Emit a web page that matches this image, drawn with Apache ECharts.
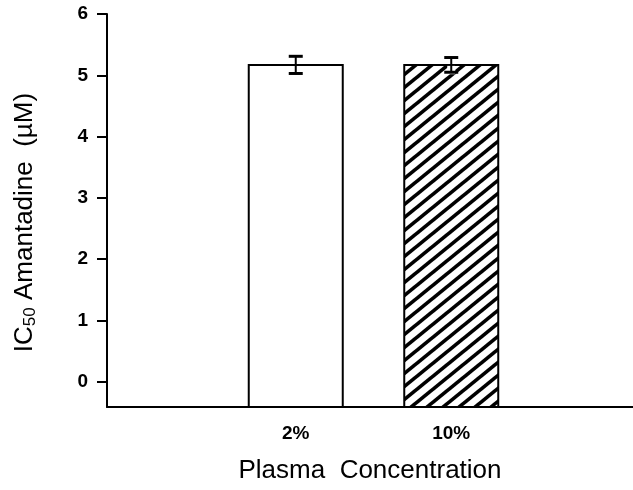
<!DOCTYPE html>
<html>
<head>
<meta charset="utf-8">
<script src="https://cdn.jsdelivr.net/npm/echarts@6/dist/echarts.min.js"></script>
<style>
  html, body { margin: 0; padding: 0; background: #fff; }
  #chart { width: 633px; height: 490px; }
</style>
</head>
<body>
<div id="chart"></div>
<script>
// IC50 of amantadine measured at two plasma concentrations
const categories = ['2%', '10%'];
const meanIC50 = [5.17, 5.17];
const errIC50 = [0.14, 0.12];
const yTickValues = [0, 1, 2, 3, 4, 5, 6];

const FONT = '"Liberation Sans", Arial, sans-serif';

// Diagonal hatch tile used for the second bar
function makeHatch() {
  const W = 16, H = 13;
  const c = document.createElement('canvas');
  c.width = W; c.height = H;
  const g = c.getContext('2d');
  g.fillStyle = '#fff';
  g.fillRect(0, 0, W, H);
  g.strokeStyle = '#000';
  g.lineWidth = 3.6;
  for (const dx of [-W, 0, W]) {
    g.beginPath();
    g.moveTo(dx - W, 2 * H);
    g.lineTo(dx + 2 * W, -H);
    g.stroke();
  }
  return c;
}
const hatch = { image: makeHatch(), repeat: 'repeat' };
const fills = ['#fff', hatch];

const BAR_W = 94;
const CAP_W = 14;

function renderBar(params, api) {
  const i = api.value(0);
  const v = api.value(1);
  const e = api.value(2);
  const cs = params.coordSys;
  const top = api.coord([i, v]);
  const hi = api.coord([i, v + e]);
  const lo = api.coord([i, v - e]);
  const bottom = cs.y + cs.height;
  const x = top[0];
  const children = [
    {
      type: 'rect',
      shape: { x: x - BAR_W / 2, y: top[1], width: BAR_W, height: bottom - top[1] },
      style: { fill: fills[i], stroke: '#000', lineWidth: 2 }
    }
  ];
  if (i > 0) {
    // clear the hatching around the lower half of the error bar
    children.push({
      type: 'rect',
      shape: { x: x - 4, y: top[1] + 1, width: 8, height: lo[1] - top[1] + 1 },
      style: { fill: '#fff' }
    });
  }
  children.push(
    { type: 'line', shape: { x1: x, y1: hi[1], x2: x, y2: lo[1] }, style: { stroke: '#000', lineWidth: 2 } },
    { type: 'line', shape: { x1: x - CAP_W / 2, y1: hi[1], x2: x + CAP_W / 2, y2: hi[1] }, style: { stroke: '#000', lineWidth: 3 } },
    { type: 'line', shape: { x1: x - CAP_W / 2, y1: lo[1], x2: x + CAP_W / 2, y2: lo[1] }, style: { stroke: '#000', lineWidth: 3 } }
  );
  return { type: 'group', children };
}

const Y_MIN = -0.41;
const Y_MAX = 6;

const chart = echarts.init(document.getElementById('chart'), null, { renderer: 'canvas' });
chart.setOption({
  animation: false,
  backgroundColor: '#fff',
  grid: [
    { left: 107, right: 0, top: 14, bottom: 83 },
    { left: 218, right: 104, top: 14, bottom: 83 }
  ],
  xAxis: [
    {
      gridIndex: 0,
      type: 'value',
      min: 0, max: 1,
      axisLine: { show: true, onZero: false, lineStyle: { color: '#000', width: 2 } },
      axisTick: { show: false },
      axisLabel: { show: false },
      splitLine: { show: false },
      name: 'Plasma  Concentration',
      nameLocation: 'middle',
      nameGap: 51,
      nameTextStyle: { fontFamily: FONT, fontSize: 26, color: '#000', padding: [0, 0, 0, 0] }
    },
    {
      gridIndex: 1,
      type: 'category',
      data: categories,
      axisLine: { show: false },
      axisTick: { show: false },
      axisLabel: { margin: 17, fontFamily: FONT, fontSize: 19, fontWeight: 'bold', color: '#000' }
    }
  ],
  yAxis: [
    {
      gridIndex: 0,
      type: 'value',
      min: Y_MIN, max: Y_MAX,
      axisLine: { show: true, onZero: false, lineStyle: { color: '#000', width: 2 } },
      axisTick: { show: true, length: 10, customValues: yTickValues, lineStyle: { color: '#000', width: 2 } },
      axisLabel: { customValues: yTickValues, margin: 19, fontFamily: FONT, fontSize: 19, fontWeight: 'bold', color: '#000' },
      splitLine: { show: false },
      name: '{a|IC}{s|50}{a| Amantadine  (µM)}',
      nameLocation: 'middle',
      nameRotate: 90,
      nameGap: 68,
      nameTextStyle: {
        color: '#000',
        padding: [0, 24, 0, 0],
        rich: {
          a: { fontFamily: FONT, fontSize: 26, color: '#000' },
          s: { fontFamily: FONT, fontSize: 17, color: '#000', padding: [12, 0, 0, 0] }
        }
      }
    },
    {
      gridIndex: 1,
      type: 'value',
      min: Y_MIN, max: Y_MAX,
      show: false,
      splitLine: { show: false }
    }
  ],
  series: [
    {
      type: 'custom',
      xAxisIndex: 1,
      yAxisIndex: 1,
      renderItem: renderBar,
      encode: { x: 0, y: 1 },
      data: categories.map((c, i) => [i, meanIC50[i], errIC50[i]]),
      clip: false
    }
  ]
});
</script>
</body>
</html>
